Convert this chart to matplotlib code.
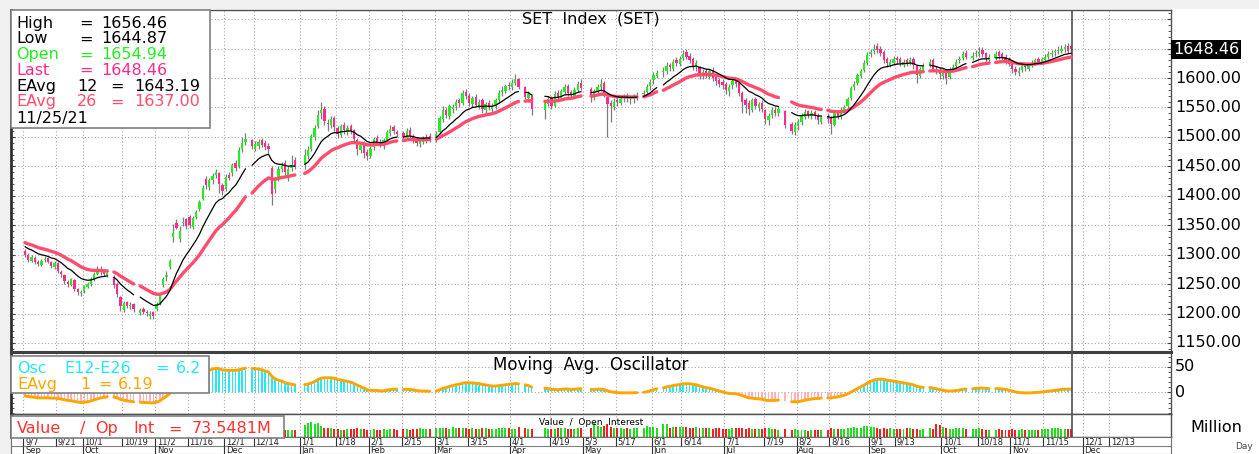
import numpy as np
import matplotlib
matplotlib.use("Agg")
import matplotlib.pyplot as plt
from matplotlib.patches import Rectangle
from matplotlib.ticker import MultipleLocator

W, H, DPI = 1259, 454, 100

START_DATE = "2020-09-07"
END_DATE = "2021-11-25"

# daily SET index, one line per week (Mon..Fri), None = market closed
closes = [
    1300, 1291, 1296, 1287, 1284,
    1290, 1293, 1288, 1280, 1286,
    1272, 1267, 1255, 1250, 1258,
    1242, 1236, 1237, 1246, 1251,
    1259, 1268, 1273, 1270, 1267,
    1269, None, 1248, 1233, 1212,
    1218, 1213, 1215, 1207, None,
    1206, 1203, 1201, 1199, 1195,
    1216, 1229, 1258, 1266, 1289,
    1337, 1346, 1340, 1356, 1348,
    1351, 1362, 1372, 1389, 1414,
    1418, 1426, 1434, 1441, 1420,
    1408, 1432, 1430, 1452, 1447,
    1478, 1490, 1496, None, 1484,
    1488, 1492, 1487, 1482, 1480,
    1403, 1428, 1445, 1452, 1440,
    1445, 1452, 1449, None, None,
    1470, 1478, 1502, 1515, 1538,
    1545, 1527, 1522, 1530, 1517,
    1505, 1518, 1512, 1515, 1510,
    1497, 1480, 1487, 1472, 1467,
    1480, 1496, 1490, 1486, 1494,
    1508, 1514, 1510, 1505, None,
    1500, 1510, 1502, 1495, 1490,
    1493, 1498, 1500, 1497, None,
    1505, 1532, 1545, 1538, 1552,
    1550, 1560, 1558, 1574, 1570,
    1558, 1566, 1555, 1560, 1548,
    1556, 1550, 1553, 1562, 1575,
    1580, 1586, 1587, 1592, 1598,
    1585, None, 1568, 1572, 1548,
    None, None, None, 1558, 1565,
    1552, 1573, 1568, 1578, 1585,
    1575, 1571, 1580, 1590, 1583,
    None, None, 1568, 1578, 1585,
    1590, 1572, 1556, 1552, 1560,
    1560, 1565, 1568, 1566, 1565,
    1568, 1570, None, 1575, 1585,
    1594, 1605, 1608, None, 1612,
    1620, 1618, 1628, 1625, 1632,
    1640, 1636, 1630, 1620, 1625,
    1606, 1610, 1605, 1612, 1600,
    1595, 1590, 1588, 1580, 1585,
    1595, 1590, 1575, 1560, 1555,
    1548, 1562, 1552, 1556, 1548,
    1530, 1536, 1545, 1540, 1548,
    None, 1520, None, 1510, 1521,
    1525, 1536, 1542, 1537, 1540,
    1535, 1528, 1534, None, 1530,
    1522, 1540, 1535, 1545, 1550,
    1565, 1583, 1590, 1605, 1612,
    1625, 1639, 1645, 1650, 1648,
    1642, 1630, 1625, 1628, 1632,
    1630, 1626, 1628, 1625, 1630,
    1622, 1605, 1615, 1620, None,
    1628, 1615, 1612, 1606, 1612,
    1600, 1615, 1618, 1628, 1632,
    1640, 1636, None, 1638, 1642,
    1644, 1640, 1632, 1636, None,
    1640, 1638, 1634, 1630, 1623,
    1615, 1610, 1612, 1620, 1618,
    1622, 1625, 1630, 1628, 1632,
    1636, 1640, 1643, 1645, 1648,
    1650, 1652, 1646, 1648.46,
]

opens = [
    1306, 1299, 1290, 1295, 1288,
    1283, 1291, 1294, 1287, 1279,
    1285, 1271, 1266, 1254, 1249,
    1257, 1241, 1235, 1238, 1245,
    1250, 1258, 1268, 1276, 1271,
    1266, None, 1262, 1250, 1228,
    1206, 1219, 1212, 1216, None,
    1201, 1208, 1202, 1195, 1202,
    1208, 1217, 1248, 1262, 1279,
    1330, 1354, 1327, 1353, 1360,
    1364, 1347, 1364, 1378, 1395,
    1429, 1415, 1426, 1436, 1438,
    1418, 1412, 1436, 1438, 1455,
    1450, 1480, 1492, None, 1494,
    1480, 1485, 1494, 1490, 1485,
    1448, 1412, 1430, 1445, 1455,
    1436, 1448, 1460, None, None,
    1452, 1468, 1480, 1500, 1518,
    1540, 1548, 1524, 1520, 1532,
    1515, 1504, 1520, 1510, 1518,
    1512, 1495, 1478, 1490, 1474,
    1468, 1482, 1498, 1492, 1484,
    1495, 1506, 1516, 1508, None,
    1506, 1498, 1512, 1500, 1496,
    1488, 1492, 1496, 1502, None,
    1498, 1508, 1530, 1546, 1536,
    1548, 1552, 1562, 1558, 1576,
    1570, 1556, 1568, 1553, 1562,
    1546, 1558, 1548, 1552, 1562,
    1576, 1578, 1588, 1584, 1592,
    1598, None, 1584, 1566, 1570,
    None, None, None, 1545, 1556,
    1566, 1553, 1575, 1566, 1577,
    1586, 1576, 1570, 1580, 1592,
    None, None, 1582, 1566, 1576,
    1584, 1592, 1568, 1558, 1550,
    1562, 1558, 1566, 1570, 1564,
    1564, 1568, None, 1572, 1576,
    1586, 1596, 1604, None, 1610,
    1612, 1622, 1616, 1630, 1624,
    1634, 1644, 1638, 1632, 1618,
    1618, 1604, 1612, 1602, 1614,
    1602, 1596, 1594, 1590, 1578,
    1588, 1596, 1592, 1574, 1562,
    1558, 1546, 1564, 1550, 1558,
    1545, 1528, 1538, 1546, 1540,
    None, 1544, None, 1522, 1508,
    1518, 1526, 1534, 1544, 1535,
    1542, 1536, 1526, None, 1536,
    1532, 1520, 1542, 1534, 1544,
    1552, 1566, 1584, 1592, 1604,
    1614, 1626, 1640, 1646, 1654,
    1650, 1644, 1632, 1622, 1626,
    1634, 1632, 1622, 1630, 1626,
    1632, 1620, 1604, 1614, None,
    1622, 1630, 1614, 1612, 1604,
    1610, 1602, 1616, 1620, 1630,
    1634, 1642, None, 1634, 1640,
    1640, 1648, 1642, 1630, None,
    1634, 1644, 1640, 1636, 1632,
    1626, 1616, 1608, 1614, 1622,
    1616, 1622, 1626, 1632, 1628,
    1630, 1636, 1640, 1644, 1646,
    1646, 1650, 1654, 1654.94,
]

highs = [
    1309, 1302, 1299, 1297, 1291,
    1293, 1297, 1296, 1290, 1289,
    1287, 1274, 1268, 1257, 1261,
    1259, 1244, 1240, 1249, 1254,
    1262, 1271, 1280, 1281, 1274,
    1274, None, 1265, 1254, 1230,
    1222, 1222, 1219, 1218, None,
    1210, 1211, 1206, 1204, 1204,
    1219, 1232, 1262, 1272, 1293,
    1352, 1360, 1348, 1364, 1363,
    1367, 1366, 1376, 1392, 1418,
    1434, 1430, 1438, 1446, 1441,
    1422, 1437, 1441, 1456, 1460,
    1482, 1500, 1506, None, 1497,
    1493, 1497, 1498, 1494, 1490,
    1450, 1432, 1450, 1458, 1460,
    1450, 1470, 1466, None, None,
    1480, 1485, 1505, 1520, 1545,
    1560, 1552, 1530, 1536, 1535,
    1518, 1522, 1525, 1520, 1522,
    1514, 1498, 1492, 1493, 1480,
    1485, 1500, 1504, 1496, 1498,
    1512, 1520, 1520, 1512, None,
    1510, 1515, 1516, 1505, 1500,
    1498, 1502, 1505, 1506, None,
    1510, 1535, 1552, 1550, 1556,
    1556, 1565, 1566, 1580, 1582,
    1574, 1570, 1572, 1565, 1566,
    1560, 1562, 1558, 1566, 1580,
    1586, 1590, 1594, 1598, 1606,
    1600, None, 1586, 1578, 1572,
    None, None, None, 1562, 1570,
    1570, 1578, 1580, 1582, 1590,
    1590, 1580, 1585, 1595, 1598,
    None, None, 1585, 1582, 1590,
    1598, 1595, 1570, 1562, 1566,
    1568, 1570, 1572, 1574, 1570,
    1573, 1576, None, 1580, 1590,
    1598, 1610, 1614, None, 1618,
    1628, 1626, 1632, 1636, 1638,
    1648, 1650, 1642, 1636, 1630,
    1620, 1615, 1616, 1615, 1618,
    1605, 1600, 1598, 1594, 1590,
    1600, 1600, 1595, 1578, 1566,
    1562, 1566, 1568, 1560, 1562,
    1548, 1540, 1550, 1550, 1552,
    None, 1546, None, 1525, 1526,
    1530, 1540, 1548, 1546, 1545,
    1546, 1540, 1538, None, 1540,
    1536, 1544, 1546, 1550, 1554,
    1568, 1586, 1595, 1608, 1616,
    1630, 1644, 1650, 1658, 1660,
    1654, 1648, 1635, 1632, 1638,
    1638, 1636, 1632, 1634, 1636,
    1636, 1622, 1618, 1626, None,
    1632, 1634, 1620, 1618, 1616,
    1614, 1618, 1624, 1632, 1638,
    1646, 1648, None, 1644, 1648,
    1652, 1652, 1645, 1640, None,
    1646, 1648, 1644, 1640, 1636,
    1630, 1620, 1618, 1624, 1625,
    1626, 1630, 1634, 1636, 1636,
    1640, 1646, 1648, 1650, 1654,
    1656, 1658, 1660, 1656.46,
]

lows = [
    1296, 1288, 1287, 1284, 1280,
    1280, 1287, 1285, 1277, 1276,
    1269, 1262, 1251, 1245, 1247,
    1238, 1231, 1230, 1235, 1243,
    1247, 1256, 1265, 1266, 1263,
    1262, None, 1244, 1228, 1205,
    1202, 1209, 1207, 1203, None,
    1198, 1200, 1196, 1190, 1191,
    1205, 1214, 1245, 1256, 1276,
    1322, 1343, 1322, 1348, 1344,
    1345, 1343, 1361, 1375, 1392,
    1412, 1410, 1420, 1430, 1405,
    1402, 1408, 1426, 1434, 1442,
    1447, 1474, 1486, None, 1480,
    1476, 1480, 1483, 1478, 1473,
    1385, 1405, 1425, 1440, 1436,
    1425, 1442, 1445, None, None,
    1445, 1462, 1476, 1495, 1515,
    1530, 1520, 1510, 1515, 1510,
    1498, 1500, 1505, 1503, 1505,
    1492, 1470, 1472, 1465, 1460,
    1464, 1478, 1486, 1482, 1480,
    1490, 1502, 1505, 1500, None,
    1494, 1494, 1498, 1490, 1484,
    1482, 1488, 1490, 1492, None,
    1492, 1505, 1525, 1532, 1530,
    1540, 1546, 1550, 1555, 1565,
    1552, 1550, 1550, 1548, 1540,
    1540, 1546, 1543, 1548, 1558,
    1570, 1574, 1580, 1580, 1588,
    1582, None, 1565, 1560, 1538,
    None, None, None, 1530, 1552,
    1548, 1550, 1562, 1562, 1572,
    1570, 1565, 1566, 1576, 1580,
    None, None, 1560, 1562, 1572,
    1578, 1568, 1500, 1525, 1546,
    1552, 1554, 1560, 1560, 1556,
    1558, 1562, None, 1566, 1572,
    1580, 1590, 1600, None, 1602,
    1606, 1612, 1612, 1620, 1620,
    1630, 1632, 1626, 1614, 1612,
    1598, 1598, 1600, 1598, 1595,
    1588, 1585, 1582, 1572, 1570,
    1582, 1585, 1570, 1540, 1540,
    1538, 1542, 1548, 1544, 1542,
    1522, 1520, 1532, 1535, 1536,
    None, 1515, None, 1505, 1504,
    1512, 1520, 1530, 1532, 1530,
    1530, 1522, 1522, None, 1524,
    1505, 1518, 1530, 1530, 1540,
    1548, 1562, 1580, 1588, 1600,
    1610, 1622, 1636, 1640, 1642,
    1638, 1626, 1618, 1618, 1622,
    1624, 1620, 1618, 1620, 1622,
    1615, 1592, 1600, 1610, None,
    1618, 1612, 1606, 1598, 1598,
    1590, 1598, 1610, 1616, 1626,
    1630, 1632, None, 1630, 1636,
    1636, 1636, 1628, 1625, None,
    1630, 1632, 1630, 1624, 1620,
    1608, 1605, 1604, 1610, 1612,
    1612, 1618, 1622, 1624, 1624,
    1626, 1632, 1636, 1638, 1640,
    1642, 1644, 1642, 1644.87,
]

# traded value, million
values = [
    62, 58, 65, 60, 55,
    60, 63, 58, 66, 70,
    64, 68, 72, 66, 60,
    62, 70, 75, 60, 58,
    65, 72, 70, 66, 61,
    60, None, 74, 78, 82,
    70, 66, 64, 68, None,
    65, 62, 66, 70, 75,
    80, 92, 110, 105, 120,
    150, 140, 125, 118, 110,
    112, 105, 108, 115, 130,
    120, 110, 105, 112, 98,
    118, 100, 95, 105, 96,
    110, 115, 105, None, 98,
    92, 88, 90, 86, 84,
    120, 80, 72, 66, 58,
    64, 60, 62, None, None,
    110, 125, 130, 115, 120,
    96, 80, 84, 82, 75,
    70, 66, 64, 72, 68,
    72, 80, 70, 74, 66,
    64, 70, 66, 62, 68,
    66, 72, 70, 64, None,
    68, 70, 66, 72, 75,
    80, 72, 70, 68, None,
    78, 84, 76, 80, 74,
    88, 82, 78, 84, 80,
    72, 76, 70, 74, 80,
    76, 72, 70, 74, 80,
    78, 82, 76, 70, 74,
    86, None, 80, 74, 70,
    None, None, None, 76, 72,
    74, 70, 80, 78, 76,
    70, 74, 72, 76, 78,
    None, None, 84, 120, 96,
    90, 96, 112, 88, 84,
    78, 80, 74, 76, 72,
    80, 76, None, 84, 96,
    90, 92, 84, None, 118,
    112, 84, 90, 86, 88,
    92, 86, 80, 84, 90,
    82, 76, 80, 78, 74,
    76, 78, 72, 70, 74,
    80, 76, 82, 78, 74,
    76, 72, 74, 70, 68,
    84, 76, 72, 70, 66,
    None, 72, None, 66, 70,
    62, 58, 60, 56, 66,
    60, 64, 58, None, 62,
    76, 72, 70, 74, 70,
    80, 78, 90, 84, 80,
    96, 100, 92, 88, 76,
    72, 80, 74, 76, 70,
    74, 70, 72, 78, 80,
    74, 68, 64, 70, None,
    76, 72, 118, 110, 90,
    80, 74, 70, 78, 76,
    80, 72, None, 70, 74,
    76, 74, 64, 60, None,
    62, 68, 60, 66, 64,
    70, 64, 62, 68, 66,
    60, 64, 62, 66, 70,
    72, 70, 76, 80, 78,
    72, 74, 70, 73.5481,
]

# exponential averages carried in from before the first bar
EMA12_SEED = 1316.0
EMA26_SEED = 1322.0

# readouts printed in the header boxes
EAVG12_LAST = 1643.19
EAVG26_LAST = 1637.00
OSC_LAST = 6.2
OSC_AVG_LAST = 6.19

DAY_TICKS = [
    "2020-09-07", "2020-09-21", "2020-10-01", "2020-10-19", "2020-11-02",
    "2020-11-16", "2020-12-01", "2020-12-14", "2021-01-01", "2021-01-18",
    "2021-02-01", "2021-02-15", "2021-03-01", "2021-03-15", "2021-04-01",
    "2021-04-19", "2021-05-03", "2021-05-17", "2021-06-01", "2021-06-14",
    "2021-07-01", "2021-07-19", "2021-08-02", "2021-08-16", "2021-09-01",
    "2021-09-13", "2021-10-01", "2021-10-18", "2021-11-01", "2021-11-15",
    "2021-12-01", "2021-12-13",
]
MONTH_STARTS = [
    "2020-09-07", "2020-10-01", "2020-11-02", "2020-12-01", "2021-01-01",
    "2021-02-01", "2021-03-01", "2021-04-01", "2021-05-03", "2021-06-01",
    "2021-07-01", "2021-08-02", "2021-09-01", "2021-10-01", "2021-11-01",
    "2021-12-01",
]
MONTH_NAMES = ["Sep", "Oct", "Nov", "Dec", "Jan", "Feb", "Mar", "Apr",
               "May", "Jun", "Jul", "Aug", "Sep", "Oct", "Nov", "Dec"]

PRICE_LEVELS = list(range(1150, 1701, 50))

GREEN = "#22ee22"
PINK = "#ff2a8c"
EMA26_COLOR = "#ff4d6d"
CYAN = "#22e8f8"
ORANGE = "#ffa500"
GRID = dict(color="#a8a8a8", linestyle=(0, (1, 2)), linewidth=0.8)

X_LO, X_HI = -4.26, 348.3
NOW_X = 318.2


def _rect(x0, y0, x1, y1):
    return [x0 / W, 1 - y1 / H, (x1 - x0) / W, (y1 - y0) / H]


def _bar_index(day):
    return np.busday_count(START_DATE, day)


def _ema(series, span, seed):
    alpha = 2.0 / (span + 1)
    out = np.full(len(series), np.nan)
    prev = seed
    for i, v in enumerate(series):
        if np.isnan(v):
            continue
        prev = prev + alpha * (v - prev)
        out[i] = prev
    return out


def _fig_text(fig, x, y, s, **kw):
    kw.setdefault("fontsize", 11.5)
    kw.setdefault("va", "baseline")
    kw.setdefault("zorder", 6)
    fig.text(x / W, 1 - y / H, s, **kw)


def _fig_box(fig, x0, y0, x1, y1):
    fig.add_artist(Rectangle((x0 / W, 1 - y1 / H), (x1 - x0) / W, (y1 - y0) / H,
                             transform=fig.transFigure, facecolor="white",
                             edgecolor="#808080", linewidth=1.2, zorder=5))


def _style_panel(axis, tick_pos):
    axis.set_facecolor("white")
    axis.set_xlim(X_LO, X_HI)
    axis.set_xticks(tick_pos)
    axis.tick_params(axis="x", length=0, labelbottom=False)
    axis.tick_params(axis="y", which="both", direction="in", left=True, right=True,
                     labelleft=False, labelright=False, length=3, color="#404040")
    axis.tick_params(axis="y", which="minor", length=2)
    for spine in axis.spines.values():
        spine.set_color("#505050")
        spine.set_linewidth(1.0)
    axis.spines["left"].set_linewidth(2.0)
    axis.spines["left"].set_color("#303030")
    axis.axvline(NOW_X, color="#505050", linewidth=1.2, zorder=4)


def main():
    c = np.array(closes, dtype=float)
    o = np.array(opens, dtype=float)
    hi = np.array(highs, dtype=float)
    lo = np.array(lows, dtype=float)
    val = np.array(values, dtype=float)
    n_days = _bar_index(np.datetime64(END_DATE) + 1)
    assert len(c) == len(o) == len(hi) == len(lo) == len(val) == n_days, (len(c), n_days)

    idx = np.arange(len(c))
    up = c >= o
    ema12 = _ema(c, 12, EMA12_SEED)
    ema26 = _ema(c, 26, EMA26_SEED)
    osc = ema12 - ema26

    tick_pos = np.array([_bar_index(d) for d in DAY_TICKS]) - 0.5
    tick_labels = ["%d/%d" % (int(d[5:7]), int(d[8:10])) for d in DAY_TICKS]
    month_pos = np.array([_bar_index(d) for d in MONTH_STARTS]) - 0.5

    fig = plt.figure(figsize=(W / DPI, H / DPI), dpi=DPI)
    fig.patch.set_facecolor("#f0f0f0")
    fig.add_artist(Rectangle((11 / W, 0), 1 - 11 / W, 1 - 9 / H, transform=fig.transFigure,
                             facecolor="white", edgecolor="none", zorder=-1))

    # ---- price panel
    ax = fig.add_axes(_rect(11, 10, 1171, 352))
    _style_panel(ax, tick_pos)
    ax.set_ylim(1134.7, 1715.5)
    ax.set_yticks(PRICE_LEVELS)
    ax.yaxis.set_minor_locator(MultipleLocator(10))
    ax.grid(True, **GRID)
    ax.set_axisbelow(True)

    ok = ~np.isnan(c)
    ax.vlines(idx[ok], lo[ok], hi[ok], color="#7c7c7c", linewidth=0.9, zorder=2)
    body_lo = np.minimum(o, c)
    body_h = np.maximum(np.abs(c - o), 1.8)
    ax.bar(idx[ok & up], body_h[ok & up], bottom=body_lo[ok & up], width=0.7,
           color=GREEN, linewidth=0, zorder=3)
    ax.bar(idx[ok & ~up], body_h[ok & ~up], bottom=body_lo[ok & ~up], width=0.7,
           color=PINK, linewidth=0, zorder=3)
    ax.plot(idx, ema26, color=EMA26_COLOR, linewidth=2.4, zorder=4, solid_capstyle="round")
    ax.plot(idx, ema12, color="black", linewidth=0.9, zorder=5, solid_capstyle="round")

    ytrans = ax.get_yaxis_transform()
    for level in PRICE_LEVELS[:-2]:
        ax.text(1.0034, level, "%.2f" % level, transform=ytrans, fontsize=11.5,
                va="center", ha="left")
    ax.text(1.0017, c[-1], "%.2f" % c[-1], transform=ytrans, fontsize=11.5, va="center",
            ha="left", color="white",
            bbox=dict(facecolor="black", edgecolor="none", boxstyle="square,pad=0.12"))
    _fig_text(fig, 591, 24, "SET  Index  (SET)", ha="center", fontsize=11.5)

    # ---- oscillator panel
    ax_o = fig.add_axes(_rect(11, 352, 1171, 414))
    _style_panel(ax_o, tick_pos)
    ax_o.set_ylim(-42.2, 79.4)
    ax_o.set_yticks([0, 50])
    ax_o.yaxis.set_minor_locator(MultipleLocator(10))
    ax_o.grid(True, **GRID)
    ax_o.set_axisbelow(True)
    ax_o.spines["top"].set_linewidth(2.2)
    ax_o.spines["top"].set_color("#404040")
    pos = osc >= 0
    neg = (osc < 0) & ~np.isnan(osc)
    ax_o.bar(idx[pos], osc[pos], width=0.45, color=CYAN, linewidth=0, zorder=2)
    ax_o.bar(idx[neg], osc[neg], width=0.45, color="#ffb0ba", linewidth=0, zorder=2)
    ax_o.plot(idx, osc, color=ORANGE, linewidth=2.1, zorder=3, solid_capstyle="round")
    otrans = ax_o.get_yaxis_transform()
    ax_o.text(1.0034, 50, "50", transform=otrans, fontsize=11.5, va="center", ha="left")
    ax_o.text(1.0034, 0, "0", transform=otrans, fontsize=11.5, va="center", ha="left")
    _fig_text(fig, 591, 370.5, "Moving  Avg.  Oscillator", ha="center", fontsize=12)

    # ---- value panel
    ax_v = fig.add_axes(_rect(11, 414, 1171, 437))
    _style_panel(ax_v, tick_pos)
    ax_v.set_ylim(0, 204)
    ax_v.set_yticks([])
    ax_v.grid(True, axis="x", **GRID)
    ax_v.set_axisbelow(True)
    vok = ~np.isnan(val)
    ax_v.bar(idx[vok & up], val[vok & up], width=0.6, color="#22dd22", linewidth=0, zorder=2)
    ax_v.bar(idx[vok & ~up], val[vok & ~up], width=0.6, color="#ee2222", linewidth=0, zorder=2)
    _fig_text(fig, 591, 425, "Value  /  Open  Interest", ha="center", fontsize=6.5)
    _fig_text(fig, 1190, 431.5, "Million", fontsize=11.5)
    _fig_text(fig, 1235, 449, "Day", fontsize=6.5, color="#444444")

    # ---- date band
    ax_d = fig.add_axes(_rect(11, 437, 1171, 454))
    ax_d.set_xlim(X_LO, X_HI)
    ax_d.set_ylim(0, 1)
    ax_d.set_xticks([])
    ax_d.set_yticks([])
    for spine in ax_d.spines.values():
        spine.set_color("#707070")
        spine.set_linewidth(0.8)
    ax_d.axhline(0.47, color="#808080", linewidth=0.8)
    ax_d.vlines(tick_pos, 0.47, 1, color="#303030", linewidth=0.8)
    ax_d.vlines(month_pos, 0, 0.47, color="#303030", linewidth=0.8)
    for x, label in zip(tick_pos, tick_labels):
        ax_d.text(x + 0.5, 0.56, label, fontsize=6, color="#202020", va="baseline")
    for x, label in zip(month_pos, MONTH_NAMES):
        ax_d.text(x + 0.5, 0.06, label, fontsize=6, color="#202020", va="baseline")

    # ---- header boxes
    _fig_box(fig, 11, 10, 210, 128)
    rows = [
        ("High", None, "%.2f" % hi[-1], "black", 27.7),
        ("Low", None, "%.2f" % lo[-1], "black", 43.3),
        ("Open", None, "%.2f" % o[-1], GREEN, 59.3),
        ("Last", None, "%.2f" % c[-1], PINK, 75.0),
        ("EAvg", "12", "%.2f" % EAVG12_LAST, "black", 90.7),
        ("EAvg", "26", "%.2f" % EAVG26_LAST, EMA26_COLOR, 106.3),
    ]
    for name, period, number, color, y in rows:
        _fig_text(fig, 16.5, y, name, color=color)
        if period is None:
            _fig_text(fig, 79, y, "=", color=color)
            _fig_text(fig, 101.5, y, number, color=color)
        else:
            _fig_text(fig, 77, y, period, color=color)
            _fig_text(fig, 110, y, "=", color=color)
            _fig_text(fig, 134, y, number, color=color)
    _fig_text(fig, 16.5, 122.7, "11/25/21")

    _fig_box(fig, 11, 356, 209, 393)
    _fig_text(fig, 17, 372.7, "Osc", color=CYAN)
    _fig_text(fig, 64, 372.7, "E12-E26", color=CYAN)
    _fig_text(fig, 155, 372.7, "=", color=CYAN)
    _fig_text(fig, 176, 372.7, "%.1f" % OSC_LAST, color=CYAN)
    _fig_text(fig, 17, 389, "EAvg", color=ORANGE)
    _fig_text(fig, 80, 389, "1", color=ORANGE)
    _fig_text(fig, 98, 389, "=", color=ORANGE)
    _fig_text(fig, 118, 389, "%.2f" % OSC_AVG_LAST, color=ORANGE)

    _fig_box(fig, 11, 416, 284, 438)
    red = "#ff3030"
    _fig_text(fig, 17, 433.3, "Value", color=red)
    _fig_text(fig, 80, 433.3, "/", color=red)
    _fig_text(fig, 95, 433.3, "Op", color=red)
    _fig_text(fig, 133, 433.3, "Int", color=red)
    _fig_text(fig, 168, 433.3, "=", color=red)
    _fig_text(fig, 192, 433.3, "%.4fM" % val[-1], color=red)

    fig.savefig("out.png", dpi=DPI, facecolor=fig.get_facecolor())


if __name__ == "__main__":
    main()
